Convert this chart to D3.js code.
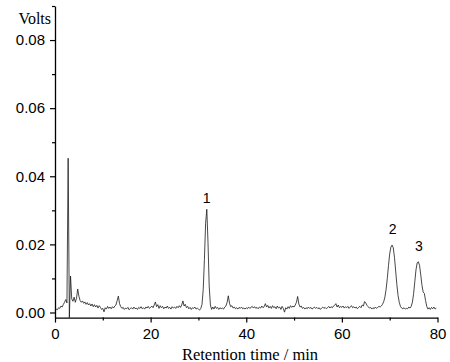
<!DOCTYPE html>
<html>
<head>
<meta charset="utf-8">
<script src="https://cdn.jsdelivr.net/npm/d3@7"></script>
<style>
  body { margin: 0; background: #fff; }
  .tick text { font-family: "Liberation Sans", Arial, sans-serif; font-size: 15px; fill: #000; }
  .serif { font-family: "Liberation Serif", "Times New Roman", serif; }
</style>
</head>
<body>
<div id="chart"></div>
<script>
//Chart size
const width = 450;
const height = 362;

//Chromatogram data: detector signal (V) sampled every 0.25 min from t = 0
const sampleStep = 0.25;
const volts = [
  0.0005, 0.0010, 0.0008, 0.0014, 0.0012, 0.0019, 0.0016, 0.0024, 0.0030, 0.0038, 0.0028, 0.0453, -0.0015, 0.0107, 0.0040, 0.0033, 0.0045, 0.0030, 0.0042, 0.0069,
  0.0048, 0.0035, 0.0030, 0.0034, 0.0027, 0.0031, 0.0024, 0.0029, 0.0022, 0.0026, 0.0019, 0.0025, 0.0017, 0.0023, 0.0016, 0.0021, 0.0013, 0.0020, 0.0015, 0.0009,
  0.0012, 0.0002, 0.0014, 0.0010, 0.0018, 0.0012, 0.0016, 0.0011, 0.0017, 0.0013, 0.0019, 0.0022, 0.0035, 0.0048, 0.0026, 0.0017, 0.0012, 0.0015, 0.0009, 0.0013,
  0.0011, 0.0015, 0.0008, 0.0012, 0.0014, 0.0010, 0.0016, 0.0011, 0.0013, 0.0009, 0.0015, 0.0012, 0.0017, 0.0011, 0.0014, 0.0010, 0.0016, 0.0013, 0.0018, 0.0012,
  0.0015, 0.0019, 0.0014, 0.0022, 0.0031, 0.0017, 0.0023, 0.0012, 0.0020, 0.0014, 0.0018, 0.0011, 0.0016, 0.0013, 0.0019, 0.0012, 0.0015, 0.0010, 0.0017, 0.0013,
  0.0016, 0.0012, 0.0018, 0.0014, 0.0020, 0.0015, 0.0022, 0.0034, 0.0019, 0.0024, 0.0014, 0.0018, 0.0011, 0.0015, 0.0009, 0.0014, 0.0012, 0.0016, 0.0010, 0.0013,
  0.0010, 0.0007, 0.0012, 0.0024, 0.0068, 0.0155, 0.0262, 0.0303, 0.0205, 0.0078, 0.0022, 0.0009, 0.0016, 0.0010, 0.0018, 0.0012, 0.0015, 0.0009, 0.0014, 0.0011,
  0.0013, 0.0010, 0.0016, 0.0019, 0.0030, 0.0049, 0.0027, 0.0017, 0.0020, 0.0013, 0.0016, 0.0011, 0.0014, 0.0010, 0.0015, 0.0012, 0.0016, 0.0011, 0.0013, 0.0010,
  0.0014, 0.0011, 0.0016, 0.0012, 0.0015, 0.0018, 0.0013, 0.0017, 0.0012, 0.0015, 0.0011, 0.0016, 0.0013, 0.0019, 0.0014, 0.0017, 0.0026, 0.0016, 0.0021, 0.0013,
  0.0018, 0.0012, 0.0020, 0.0014, 0.0017, 0.0011, 0.0019, 0.0013, 0.0016, 0.0009, 0.0018, 0.0012, 0.0001, 0.0014, 0.0010, 0.0017, 0.0012, 0.0020, 0.0015, 0.0019,
  0.0016, 0.0022, 0.0030, 0.0047, 0.0025, 0.0016, 0.0019, 0.0012, 0.0015, 0.0010, 0.0014, 0.0011, 0.0016, 0.0012, 0.0015, 0.0010, 0.0013, 0.0016, 0.0012, 0.0015,
  0.0011, 0.0014, 0.0009, 0.0013, 0.0016, 0.0012, 0.0015, 0.0011, 0.0014, 0.0018, 0.0013, 0.0017, 0.0014, 0.0019, 0.0021, 0.0026, 0.0016, 0.0022, 0.0014, 0.0018,
  0.0015, 0.0019, 0.0013, 0.0017, 0.0014, 0.0018, 0.0012, 0.0016, 0.0020, 0.0014, 0.0017, 0.0013, 0.0016, 0.0011, 0.0015, 0.0018, 0.0014, 0.0022, 0.0019, 0.0032,
  0.0028, 0.0021, 0.0017, 0.0013, 0.0015, 0.0010, 0.0014, 0.0011, 0.0016, 0.0012, 0.0015, 0.0018, 0.0016, 0.0019, 0.0024, 0.0032, 0.0045, 0.0068, 0.0100, 0.0138,
  0.0172, 0.0192, 0.0198, 0.0190, 0.0162, 0.0122, 0.0082, 0.0050, 0.0030, 0.0018, 0.0013, 0.0011, 0.0014, 0.0010, 0.0012, 0.0011, 0.0016, 0.0013, 0.0018, 0.0030,
  0.0055, 0.0090, 0.0125, 0.0146, 0.0149, 0.0138, 0.0110, 0.0080, 0.0060, 0.0056, 0.0035, 0.0018, 0.0010, 0.0014, 0.0009, 0.0015, 0.0011, 0.0016, 0.0010, 0.0013
];

//Axis ticks
const xMajorTicks = [0, 20, 40, 60, 80];
const xMinorTicks = [10, 30, 50, 70];
const yMajorTicks = [0.00, 0.02, 0.04, 0.06, 0.08];
const yMinorTicks = [0.01, 0.03, 0.05, 0.07, 0.09];

//Peak annotations (retention time, signal level where the number sits)
const peakLabels = ["1", "2", "3"];
const peakTimes = [31.7, 70.6, 76.1];
const peakLevels = [0.0321, 0.0230, 0.0181];

const data = volts.map((v, i) => ({ t: i * sampleStep, v: v }));

//Create the svg element
const svg = d3.select("#chart").append("svg").attr("width", width).attr("height", height);

//Scales
const xscale = d3.scaleLinear().domain([0, 80]).range([55, 437.5]);
const yscale = d3.scaleLinear().domain([-0.0015, 0.09]).range([317.6, 6]);

//Minor ticks first (no labels)
svg.append("g").attr("transform", `translate(0, ${yscale(-0.0015)})`)
  .call(d3.axisBottom(xscale).tickValues(xMinorTicks).tickSize(3).tickSizeOuter(0).tickFormat(""))
  .call(g => g.select(".domain").remove());
svg.append("g").attr("transform", `translate(${xscale(0)}, 0)`)
  .call(d3.axisLeft(yscale).tickValues(yMinorTicks).tickSize(3).tickSizeOuter(0).tickFormat(""))
  .call(g => g.select(".domain").remove());

//x axis
svg.append("g").attr("id", "x-axis").attr("transform", `translate(0, ${yscale(-0.0015)})`)
  .call(d3.axisBottom(xscale).tickValues(xMajorTicks).tickSize(5).tickSizeOuter(0).tickPadding(6).tickFormat(d3.format("d")));

//y axis
svg.append("g").attr("id", "y-axis").attr("transform", `translate(${xscale(0)}, 0)`)
  .call(d3.axisLeft(yscale).tickValues(yMajorTicks).tickSize(5).tickSizeOuter(0).tickPadding(5).tickFormat(d3.format(".2f")));

svg.selectAll(".domain").attr("stroke", "#000").attr("stroke-width", 1.3);
svg.selectAll(".tick line").attr("stroke", "#000").attr("stroke-width", 1.2);

//The chromatogram trace
const line = d3.line().x(d => xscale(d.t)).y(d => yscale(d.v));
svg.append("path").datum(data)
  .attr("d", line)
  .attr("fill", "none")
  .attr("stroke", "#1a1a1a")
  .attr("stroke-width", 0.8)
  .attr("stroke-linejoin", "round");

//Peak numbers
svg.selectAll(".peak-label").data(peakLabels).enter().append("text")
  .attr("class", "peak-label")
  .attr("x", (d, i) => xscale(peakTimes[i]))
  .attr("y", (d, i) => yscale(peakLevels[i]))
  .attr("text-anchor", "middle")
  .style("font-family", "'Liberation Sans', Arial, sans-serif")
  .style("font-size", "14px")
  .text(d => d);

//Axis titles
svg.append("text").attr("class", "serif").attr("x", 51).attr("y", 24).attr("text-anchor", "end")
  .style("font-size", "16px").text("Volts");
svg.append("text").attr("class", "serif").attr("x", 250).attr("y", 359.5).attr("text-anchor", "middle")
  .style("font-size", "16.5px").text("Retention time / min");
</script>
</body>
</html>
